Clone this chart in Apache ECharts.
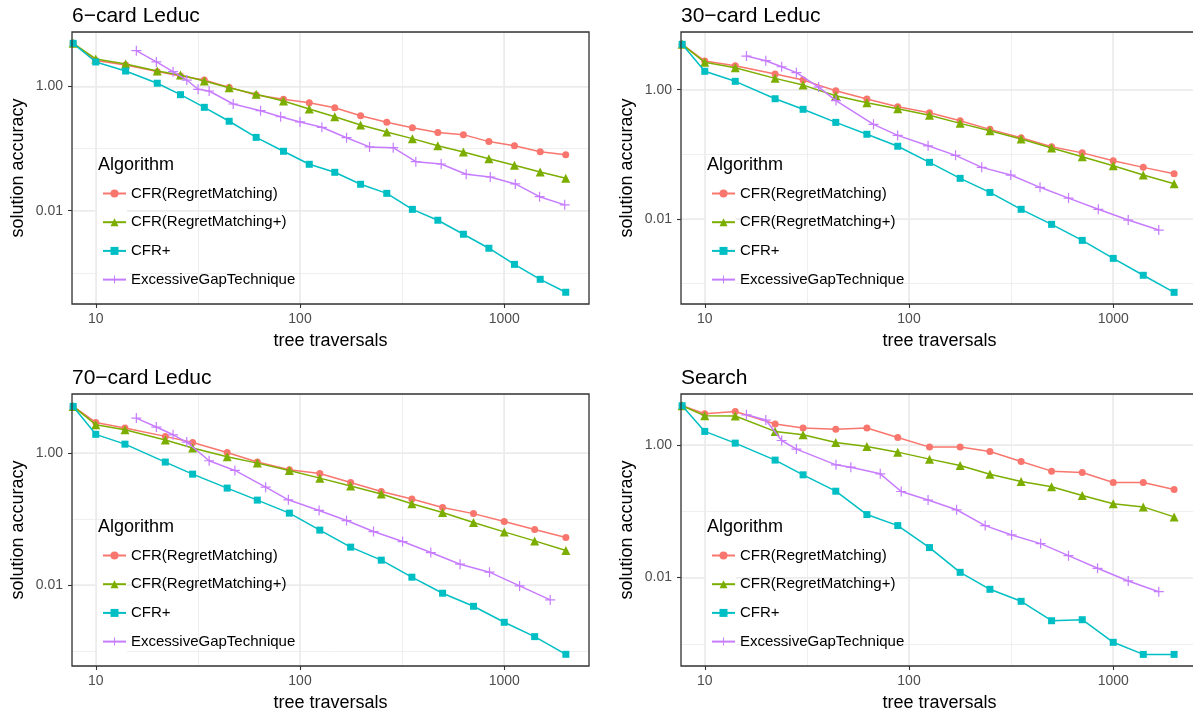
<!DOCTYPE html>
<html>
<head>
<meta charset="utf-8">
<title>solution accuracy</title>
<script src="https://cdn.jsdelivr.net/npm/echarts@6/dist/echarts.min.js"></script>
<style>
html, body { margin: 0; padding: 0; background: #fff; }
#chart { width: 1193px; height: 713px; }
</style>
</head>
<body>
<div id="chart"></div>
<script>
// titles, legend entries, tick labels
var panelTitles = ['6\u2212card Leduc', '30\u2212card Leduc', '70\u2212card Leduc', 'Search'];
var algoNames = ['CFR(RegretMatching)', 'CFR(RegretMatching+)', 'CFR+', 'ExcessiveGapTechnique'];
var xTickLabels = ['10', '100', '1000'];
var yTickLabels = ['0.01', '1.00'];

// 6-card Leduc
var leduc6_x    = [7.75, 10, 14, 20, 26, 34, 45, 61, 83, 111, 148, 198, 266, 355, 473, 631, 841, 1122, 1500, 2000];
var leduc6_rm   = [4.91, 2.6, 2.2, 1.72, 1.46, 1.26, 0.96, 0.724, 0.618, 0.545, 0.453, 0.336, 0.264, 0.216, 0.18, 0.167, 0.129, 0.111, 0.0889, 0.0795];
var leduc6_rmp  = [4.91, 2.75, 2.28, 1.76, 1.52, 1.22, 0.95, 0.743, 0.581, 0.431, 0.324, 0.239, 0.184, 0.144, 0.111, 0.0879, 0.0686, 0.0537, 0.0419, 0.0332];
var leduc6_cfrp = [4.91, 2.46, 1.76, 1.12, 0.733, 0.459, 0.274, 0.151, 0.0902, 0.0557, 0.0414, 0.0266, 0.019, 0.0105, 0.00702, 0.00418, 0.00249, 0.00137, 0.000788, 0.000488];
var leduc6_egtX = [15.8, 19.8, 23.9, 27.9, 31.7, 35.9, 47.1, 64.1, 80.4, 100, 128, 169, 219, 286, 369, 491, 651, 854, 1133, 1489, 1977];
var leduc6_egt  = [3.74, 2.46, 1.72, 1.26, 0.895, 0.84, 0.519, 0.405, 0.324, 0.267, 0.219, 0.149, 0.106, 0.103, 0.0614, 0.0563, 0.0385, 0.0348, 0.0269, 0.0168, 0.0124];

// 30-card Leduc
var leduc30_x    = [7.75, 10, 14.1, 22.1, 30.3, 43.8, 62.2, 88.1, 126, 178, 249, 354, 499, 705, 1000, 1403, 1986];
var leduc30_rm   = [5.06, 2.79, 2.36, 1.75, 1.41, 0.965, 0.717, 0.545, 0.44, 0.33, 0.243, 0.18, 0.131, 0.105, 0.0794, 0.0626, 0.0499];
var leduc30_rmp  = [5.06, 2.66, 2.19, 1.5, 1.18, 0.807, 0.629, 0.507, 0.401, 0.301, 0.231, 0.172, 0.125, 0.0915, 0.0663, 0.0476, 0.0349];
var leduc30_cfrp = [5.06, 1.93, 1.35, 0.725, 0.497, 0.312, 0.204, 0.133, 0.0749, 0.0423, 0.0256, 0.014, 0.00819, 0.00462, 0.00243, 0.00133, 0.000723];
var leduc30_egtX = [16.0, 19.9, 23.8, 28.1, 36.1, 43.9, 67, 88, 124, 169, 227, 315, 438, 604, 845, 1184, 1671];
var leduc30_egt  = [3.33, 2.82, 2.27, 1.84, 1.1, 0.68, 0.291, 0.196, 0.135, 0.0961, 0.0626, 0.0476, 0.0307, 0.0209, 0.014, 0.00955, 0.00668];

// 70-card Leduc
var leduc70_x    = [7.75, 10, 13.9, 21.9, 29.8, 44, 61.8, 88.7, 125, 177, 250, 353, 499, 707, 1000, 1409, 2003];
var leduc70_rm   = [5.03, 2.88, 2.37, 1.77, 1.43, 1.01, 0.723, 0.553, 0.486, 0.355, 0.259, 0.199, 0.148, 0.12, 0.091, 0.0689, 0.0521];
var leduc70_rmp  = [5.03, 2.66, 2.23, 1.56, 1.18, 0.87, 0.697, 0.54, 0.413, 0.313, 0.237, 0.169, 0.125, 0.0879, 0.0635, 0.0464, 0.0331];
var leduc70_cfrp = [5.03, 1.9, 1.35, 0.723, 0.475, 0.292, 0.192, 0.122, 0.0675, 0.0373, 0.0237, 0.0131, 0.00749, 0.00475, 0.00272, 0.00165, 0.000891];
var leduc70_egtX = [15.8, 19.8, 23.9, 27.9, 35.9, 48, 67.9, 87.7, 124, 169, 229, 318, 437, 608, 847, 1189, 1679];
var leduc70_egt  = [3.35, 2.45, 1.87, 1.45, 0.757, 0.54, 0.302, 0.194, 0.134, 0.0942, 0.0642, 0.0453, 0.0309, 0.0206, 0.0156, 0.00966, 0.00593];

// Search
var search_x    = [7.75, 10, 14.1, 22.1, 30.3, 43.8, 62.2, 88.1, 126, 178, 249, 354, 499, 705, 1000, 1403, 1986];
var search_rm   = [3.87, 2.94, 3.18, 2.05, 1.79, 1.72, 1.79, 1.29, 0.923, 0.923, 0.794, 0.561, 0.401, 0.382, 0.27, 0.27, 0.212];
var search_rmp  = [3.87, 2.74, 2.71, 1.59, 1.42, 1.08, 0.943, 0.775, 0.608, 0.488, 0.361, 0.28, 0.233, 0.172, 0.129, 0.116, 0.082];
var search_cfrp = [3.87, 1.59, 1.06, 0.588, 0.353, 0.2, 0.0889, 0.0607, 0.0283, 0.012, 0.00666, 0.00439, 0.00224, 0.00232, 0.00106, 0.000697, 0.000697];
var search_egtX = [16.0, 19.9, 23.8, 28.1, 43.9, 51.9, 72.3, 91.6, 124, 171, 236, 318, 441, 604, 838, 1184, 1671];
var search_egt  = [2.83, 2.36, 1.16, 0.861, 0.499, 0.46, 0.365, 0.198, 0.147, 0.105, 0.0607, 0.0439, 0.0325, 0.0214, 0.0138, 0.0089, 0.00613];

// axis ranges (log scales)
var xRange = [7.65, 2600];
var yRanges = [[3.16e-4, 7.46], [4.77e-4, 7.85], [5.93e-4, 7.75], [4.66e-4, 5.82]];

var panels = [
    {x: leduc6_x, ys: [leduc6_rm, leduc6_rmp, leduc6_cfrp], egtX: leduc6_egtX, egt: leduc6_egt},
    {x: leduc30_x, ys: [leduc30_rm, leduc30_rmp, leduc30_cfrp], egtX: leduc30_egtX, egt: leduc30_egt},
    {x: leduc70_x, ys: [leduc70_rm, leduc70_rmp, leduc70_cfrp], egtX: leduc70_egtX, egt: leduc70_egt},
    {x: search_x, ys: [search_rm, search_rmp, search_cfrp], egtX: search_egtX, egt: search_egt}
];

var FONT = '"Liberation Sans", Arial, sans-serif';
var colors = ['#F8766D', '#7CAE00', '#00BFC4', '#C77CFF'];
var symbols = ['circle', 'triangle', 'rect', 'path://M8.8,0h2.4v8.8h8.8v2.4h-8.8v8.8h-2.4v-8.8h-8.8v-2.4h8.8z'];
var symbolSizes = [7, 9, 7, 10];
var gridPos = [[72, 32], [681, 32], [72, 394], [681, 394]];
var GRID_W = 517, GRID_H = 272;

var xTickValues = xTickLabels.map(parseFloat);
var yTickValues = yTickLabels.map(parseFloat);

//只显示对应的刻度文字
function tickFormatter(labels) {
    return function (v) {
        for (var k = 0; k < labels.length; k++) {
            if (Math.abs(Math.log10(v) - Math.log10(parseFloat(labels[k]))) < 1e-6) {
                return labels[k];
            }
        }
        return '';
    };
}

function toPairs(xs, ys) {
    return xs.map(function (x, i) { return [x, ys[i]]; });
}

var option = {
    animation: false,
    backgroundColor: '#fff',
    title: [],
    legend: [],
    grid: [],
    xAxis: [],
    yAxis: [],
    series: [],
    graphic: {elements: []}
};

panels.forEach(function (p, i) {
    var left = gridPos[i][0], top = gridPos[i][1];

    option.grid.push({
        left: left, top: top, width: GRID_W, height: GRID_H,
        show: true, backgroundColor: 'transparent',
        borderColor: '#333', borderWidth: 1.3, z: 5,
        outerBoundsMode: 'none'
    });

    // minor grid lines (every half decade on x, every decade on y)
    option.xAxis.push({
        type: 'log', logBase: Math.sqrt(10), gridIndex: i, position: 'bottom',
        min: xRange[0], max: xRange[1],
        axisLine: {show: false}, axisTick: {show: false}, axisLabel: {show: false},
        splitLine: {show: true, lineStyle: {color: '#ebebeb', width: 0.8}}
    });
    // major axis with labels
    option.xAxis.push({
        type: 'log', logBase: 10, gridIndex: i, position: 'bottom',
        min: xRange[0], max: xRange[1],
        name: 'tree traversals', nameLocation: 'middle', nameGap: 28, nameMoveOverlap: false,
        nameTextStyle: {fontSize: 18, color: '#000', fontFamily: FONT},
        axisLine: {show: false},
        axisTick: {show: true, length: 4, customValues: xTickValues, lineStyle: {color: '#333', width: 1.1}},
        axisLabel: {margin: 8, fontSize: 14, color: '#4d4d4d', fontFamily: FONT,
            customValues: xTickValues, formatter: tickFormatter(xTickLabels)},
        splitLine: {show: true, lineStyle: {color: '#ebebeb', width: 1.6}}
    });

    option.yAxis.push({
        type: 'log', logBase: 10, gridIndex: i, position: 'left',
        min: yRanges[i][0], max: yRanges[i][1],
        axisLine: {show: false}, axisTick: {show: false}, axisLabel: {show: false},
        splitLine: {show: true, lineStyle: {color: '#ebebeb', width: 0.8}}
    });
    option.yAxis.push({
        type: 'log', logBase: 100, gridIndex: i, position: 'left',
        min: yRanges[i][0], max: yRanges[i][1],
        name: 'solution accuracy', nameLocation: 'middle', nameGap: 45, nameMoveOverlap: false,
        nameTextStyle: {fontSize: 18, color: '#000', fontFamily: FONT},
        axisLine: {show: false},
        axisTick: {show: true, length: 4, customValues: yTickValues, lineStyle: {color: '#333', width: 1.1}},
        axisLabel: {margin: 9, fontSize: 14, color: '#4d4d4d', fontFamily: FONT,
            customValues: yTickValues, formatter: tickFormatter(yTickLabels)},
        splitLine: {show: true, lineStyle: {color: '#ebebeb', width: 1.6}}
    });

    var lines = [
        toPairs(p.x, p.ys[0]),
        toPairs(p.x, p.ys[1]),
        toPairs(p.x, p.ys[2]),
        toPairs(p.egtX, p.egt)
    ];
    lines.forEach(function (d, k) {
        option.series.push({
            name: algoNames[k],
            type: 'line',
            xAxisIndex: 2 * i + 1,
            yAxisIndex: 2 * i + 1,
            data: d,
            clip: false,
            symbol: symbols[k],
            symbolSize: symbolSizes[k],
            showAllSymbol: true,
            color: colors[k],
            itemStyle: {color: colors[k]},
            lineStyle: {color: colors[k], width: 1.5},
            z: 2 + k * 0.1
        });
    });

    option.title.push({
        text: panelTitles[i], left: left, top: top - 26.5, padding: 0,
        textStyle: {fontSize: 21, fontWeight: 'normal', color: '#000', fontFamily: FONT}
    });
    option.title.push({
        text: 'Algorithm', left: left + 26, top: top + 124, padding: 0,
        textStyle: {fontSize: 18, fontWeight: 'normal', color: '#000', fontFamily: FONT}
    });

    option.legend.push({
        data: algoNames, orient: 'vertical',
        left: left + 30, top: top + 154, padding: 0,
        itemWidth: 23, itemHeight: 10, itemGap: 13.7,
        selectedMode: false,
        textStyle: {fontSize: 15, color: '#000', fontFamily: FONT}
    });

    // white key background behind legend glyphs
    option.graphic.elements.push({
        type: 'rect', z: 1, silent: true,
        shape: {x: left + 25, y: top + 146.5, width: 30, height: 114.5},
        style: {fill: '#fff'}
    });
});

var chart = echarts.init(document.getElementById('chart'));
chart.setOption(option);
</script>
</body>
</html>
